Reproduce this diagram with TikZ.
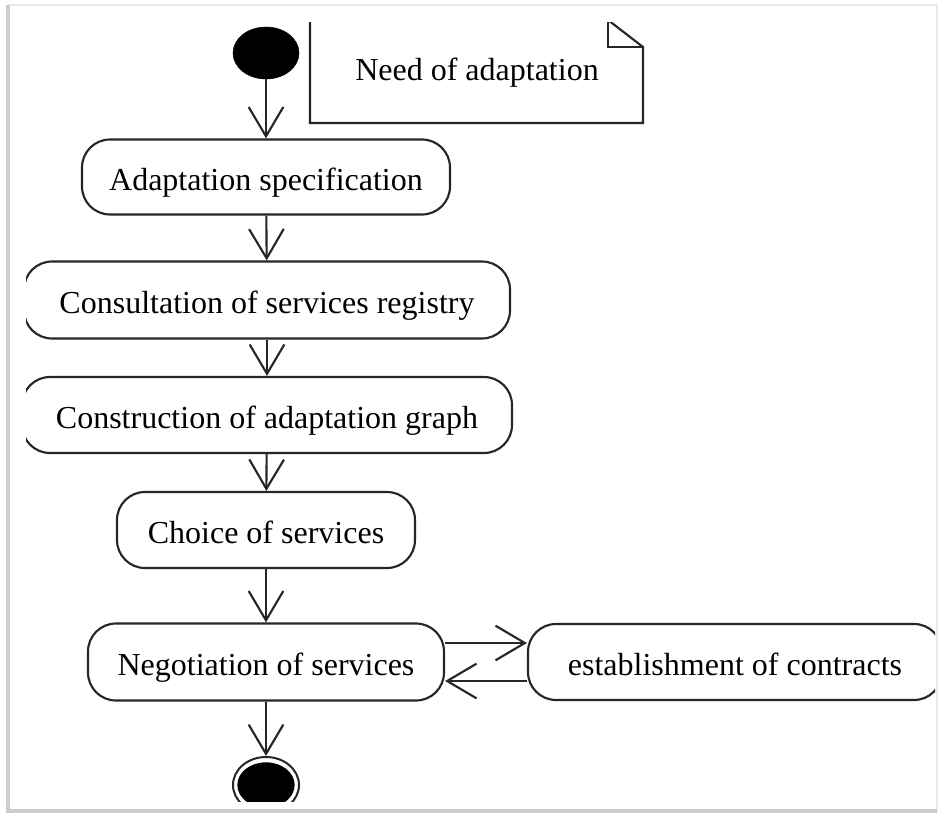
\documentclass[tikz,border=0pt]{standalone}
\usepackage{fontspec}
\setmainfont{Liberation Serif}
\usetikzlibrary{arrows.meta,shapes.geometric}
\begin{document}
\begin{tikzpicture}[x=0.75pt,y=-0.75pt,
  ln/.style={draw=black!85,line width=1.6pt},
  act/.style={ln,rounded corners=21pt,inner sep=0pt,align=center,
    text height=24pt,text depth=4pt,
    font=\fontsize{24}{28}\selectfont},
  flow/.style={ln,-{Straight Barb[length=22pt,width=26pt,line width=1.6pt]}},
  notetext/.style={inner sep=0pt,font=\fontsize{24}{28}\selectfont},
]
\useasboundingbox (0,0) rectangle (940,817);
\fill[white] (0,0) rectangle (940,817);
% outer frame
\draw[gray!18,line width=1.5pt] (8,5) -- (937,5) -- (937,811);
\draw[gray!40,line width=3pt] (8,5) -- (8,811) -- (937,811);

\begin{scope}
\clip (26,23) rectangle (935,801);
% initial node
\node[ellipse,fill=black,draw=black,minimum width=49.5pt,minimum height=39pt,inner sep=0pt] (start) at (266,53) {};
% note
\draw[ln] (310,20) -- (310,123) -- (643,123) -- (643,47) -- (608,20);
\draw[ln] (608,20) -- (608,47) -- (643,47);
\node[notetext] (note) at (477,73) {Need of adaptation};
% actions
\node[act,minimum width=276pt,minimum height=56.25pt] (spec) at (266,177) {Adaptation specification};
\node[act,minimum width=364.5pt,minimum height=57.75pt] (reg) at (267,300) {Consultation of services registry};
\node[act,minimum width=367.5pt,minimum height=57pt] (graph) at (267,415) {Construction of adaptation graph};
\node[act,minimum width=223.5pt,minimum height=57pt] (choice) at (266,530) {Choice of services};
\node[act,minimum width=267pt,minimum height=57.75pt] (nego) at (266,662) {Negotiation of services};
\node[act,minimum width=310.5pt,minimum height=57pt] (contract) at (735,662) {establishment of contracts};
% final node
\node[ellipse,draw=black!85,line width=1.5pt,minimum width=49.5pt,minimum height=42pt,inner sep=0pt] (final) at (266,785) {};
\node[ellipse,fill=black,minimum width=43pt,minimum height=34pt,inner sep=0pt] (finalcore) at (266,785) {};
% control flow
\draw[flow] (start) -- (spec);
\draw[flow] (spec) -- (reg);
\draw[flow] (reg) -- (graph);
\draw[flow] (graph) -- (choice);
\draw[flow] (choice) -- (nego);
\draw[flow] (nego) -- (final);
\draw[flow] ([yshift=14.25pt]nego.east) -- ([yshift=14.25pt]contract.west);
\draw[flow] ([yshift=-14.25pt]contract.west) -- ([yshift=-14.25pt]nego.east);
\end{scope}
\end{tikzpicture}
\end{document}
